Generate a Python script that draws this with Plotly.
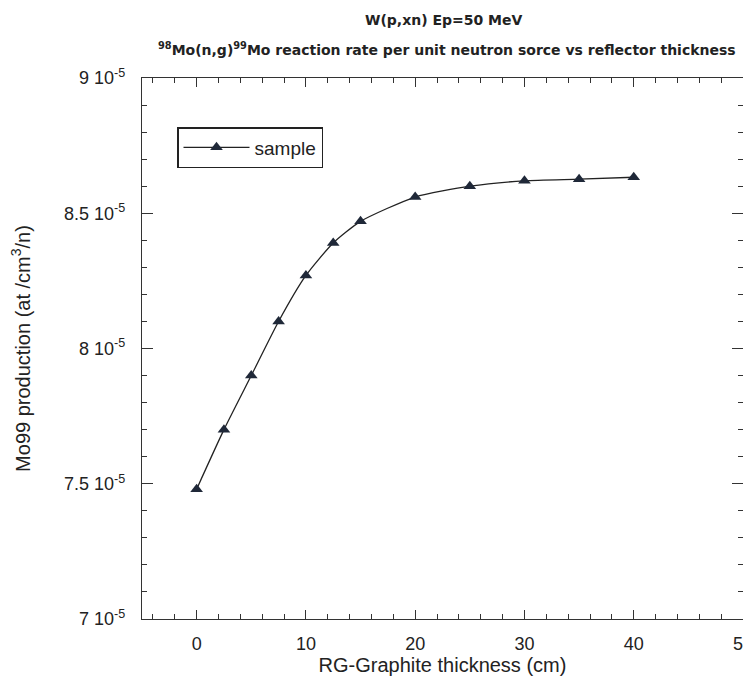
import plotly.graph_objects as go

thickness_cm = [0, 2.5, 5, 7.5, 10, 12.5, 15, 20, 25, 30, 35, 40]
mo99_rate = [7.48e-5, 7.70e-5, 7.90e-5, 8.10e-5, 8.27e-5, 8.39e-5, 8.47e-5,
             8.56e-5, 8.60e-5, 8.62e-5, 8.626e-5, 8.633e-5]

y_tickvals = [7.0e-5, 7.5e-5, 8.0e-5, 8.5e-5, 9.0e-5]
y_ticktext = ["7 10<sup>-5</sup>", "7.5 10<sup>-5</sup>", "8 10<sup>-5</sup>",
              "8.5 10<sup>-5</sup>", "9 10<sup>-5</sup>"]
x_tickvals = [0, 10, 20, 30, 40, 50]
x_range = [-5, 50]
y_range = [7.0e-5, 9.0e-5]

FONT = "Liberation Sans, Arial, sans-serif"
TFONT = "DejaVu Sans, Liberation Sans, sans-serif"
INK = "#333333"

# The page body has an 8px margin, so the figure is drawn 8px in and 8px down.
OFF = 8
W, H = 751 - OFF, 691 - OFF
ML, MR, MT, MB = 142 - OFF, 8, 78 - OFF, 72
plot_w = W - ML - MR
plot_h = H - MT - MB

fig = go.Figure()
fig.add_trace(go.Scatter(
    x=thickness_cm, y=mo99_rate, name="sample",
    mode="lines+markers",
    line=dict(color="#222222", width=1.3, shape="spline", smoothing=0.6),
    marker=dict(symbol="triangle-up", size=11, color="#1f2838"),
))

fig.update_layout(
    width=W, height=H,
    paper_bgcolor="white", plot_bgcolor="rgba(0,0,0,0)",
    margin=dict(l=ML, r=MR, t=MT, b=MB),
    font=dict(family=FONT, color="#222222"),
    showlegend=True,
    legend=dict(x=(177 - OFF - ML) / plot_w, y=(H - MB - (127 - OFF)) / plot_h,
                xanchor="left", yanchor="top",
                bordercolor="#222222", borderwidth=1.5, bgcolor="white",
                font=dict(size=19, family=FONT), itemwidth=66),
    annotations=[
        dict(text="<b>W(p,xn) Ep=50 MeV</b>",
             x=(444 - OFF - ML) / plot_w, xref="paper",
             y=(H - MB - (20 - OFF)) / plot_h, yref="paper", yanchor="middle",
             showarrow=False, font=dict(size=14, family=TFONT)),
        dict(text="<b><sup>98</sup>Mo(n,g)<sup>99</sup>Mo reaction rate per unit neutron sorce vs reflector thickness</b>",
             x=(447 - OFF - ML) / plot_w, xref="paper",
             y=(H - MB - (49 - OFF)) / plot_h, yref="paper", yanchor="middle",
             showarrow=False, font=dict(size=14, family=TFONT)),
    ],
)

fig.update_xaxes(
    range=x_range, tickvals=x_tickvals, automargin=False,
    ticks="inside", ticklen=9, tickwidth=1.3, tickcolor=INK,
    showline=True, linecolor=INK, linewidth=1.3, mirror="allticks",
    showgrid=False, zeroline=False, layer="above traces",
    tickfont=dict(size=18, family=FONT), ticklabelstandoff=8,
    ticklabeloverflow="allow",
    minor=dict(dtick=2, tick0=0, ticks="inside", ticklen=5, tickcolor=INK, tickwidth=1.2),
    title=dict(text="RG-Graphite thickness (cm)", font=dict(size=20, family=FONT), standoff=4),
)
fig.update_yaxes(
    range=y_range, tickvals=y_tickvals, ticktext=y_ticktext, automargin=False,
    ticks="inside", ticklen=11, tickwidth=1.3, tickcolor=INK,
    showline=True, linecolor=INK, linewidth=1.3, mirror="allticks",
    showgrid=False, zeroline=False, layer="above traces",
    tickfont=dict(size=18, family=FONT), ticklabelstandoff=12,
    minor=dict(dtick=0.1e-5, tick0=7.0e-5, ticks="inside", ticklen=5, tickcolor=INK, tickwidth=1.2),
    title=dict(text="Mo99 production (at /cm<sup>3</sup>/n)", font=dict(size=20, family=FONT), standoff=28),
)

fig.write_html("out.html", config={"displayModeBar": False})
